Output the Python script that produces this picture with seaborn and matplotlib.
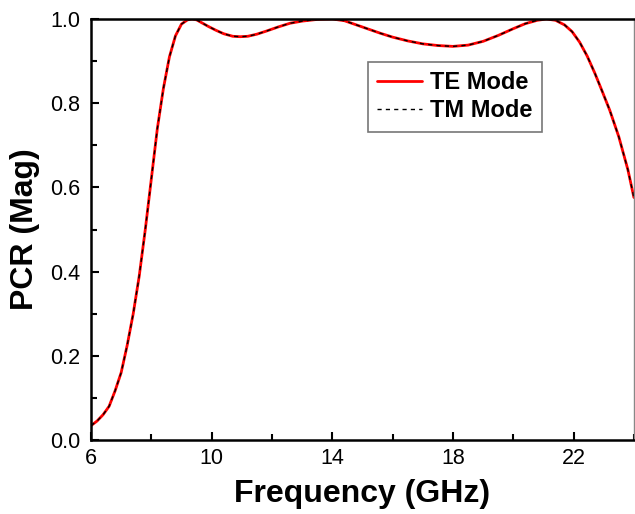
import matplotlib
matplotlib.use("Agg")
import matplotlib.pyplot as plt
import seaborn as sns
import pandas as pd
from matplotlib.ticker import MultipleLocator

freq = [6.0, 6.2, 6.4, 6.6, 6.8, 7.0, 7.2, 7.4, 7.6, 7.8, 8.0, 8.2, 8.4, 8.6,
        8.8, 9.0, 9.2, 9.35, 9.5, 9.7, 9.9, 10.15, 10.4, 10.7, 10.95, 11.2,
        11.5, 11.8, 12.2, 12.6, 13.0, 13.5, 14.0, 14.4, 14.8, 15.2, 15.6, 16.0,
        16.5, 17.0, 17.5, 18.0, 18.5, 19.0, 19.5, 20.0, 20.4, 20.8, 21.1, 21.4,
        21.7, 21.95, 22.2, 22.45, 22.7, 22.95, 23.2, 23.5, 23.8, 24.0]
te_mode = [0.034, 0.045, 0.06, 0.08, 0.117, 0.16, 0.225, 0.30, 0.39, 0.50, 0.62,
           0.74, 0.835, 0.91, 0.96, 0.988, 0.998, 1.0, 0.998, 0.99, 0.982, 0.973,
           0.965, 0.959, 0.958, 0.959, 0.964, 0.971, 0.981, 0.990, 0.995, 0.999,
           1.0, 0.996, 0.986, 0.976, 0.966, 0.957, 0.948, 0.941, 0.937, 0.935,
           0.938, 0.947, 0.961, 0.977, 0.989, 0.997, 1.0, 0.997, 0.986, 0.970,
           0.945, 0.912, 0.872, 0.828, 0.783, 0.72, 0.642, 0.576]
tm_mode = list(te_mode)

x_ticks = [6, 10, 14, 18, 22]
y_ticks = [0.0, 0.2, 0.4, 0.6, 0.8, 1.0]

sns.set_theme(style="white")
plt.rcParams["font.family"] = ["Liberation Sans", "DejaVu Sans"]
plt.rcParams["text.color"] = "black"
plt.rcParams["axes.labelcolor"] = "black"
plt.rcParams["xtick.color"] = "black"
plt.rcParams["ytick.color"] = "black"

df_te = pd.DataFrame({"Frequency": freq, "PCR": te_mode})
df_tm = pd.DataFrame({"Frequency": freq, "PCR": tm_mode})

fig = plt.figure(figsize=(6.35, 5.14), dpi=100)
ax = fig.add_axes([0.1433, 0.144, 0.855, 0.819])

sns.lineplot(data=df_te, x="Frequency", y="PCR", ax=ax, color="red",
             linewidth=2.0, label="TE Mode")
sns.lineplot(data=df_tm, x="Frequency", y="PCR", ax=ax, color="black",
             linewidth=1.0, linestyle=(0, (3, 3)), label="TM Mode")

ax.set_xlim(6, 24)
ax.set_ylim(0, 1.0)
ax.set_xticks(x_ticks)
ax.set_yticks(y_ticks)
ax.set_xticklabels([str(t) for t in x_ticks])
ax.set_yticklabels([f"{t:.1f}" for t in y_ticks])
ax.xaxis.set_minor_locator(MultipleLocator(2))
ax.yaxis.set_minor_locator(MultipleLocator(0.1))

ax.tick_params(axis="both", which="major", direction="in", length=6, width=1.5,
               labelsize=15.5, colors="black", bottom=True, left=True,
               top=False, right=False)
ax.tick_params(axis="both", which="minor", direction="in", length=4, width=1.5,
               colors="black", bottom=True, left=True, top=False, right=False)
ax.tick_params(axis="x", which="major", pad=6)
ax.tick_params(axis="y", which="major", pad=8)

for side in ["left", "bottom", "top"]:
    ax.spines[side].set_color("black")
    ax.spines[side].set_linewidth(1.8)
ax.spines["right"].set_color("#888888")
ax.spines["right"].set_linewidth(1.0)

ax.set_xlabel("Frequency (GHz)", fontsize=23, fontweight="bold", labelpad=7,
              color="black")
ax.set_ylabel("PCR (Mag)", fontsize=23, fontweight="bold", labelpad=7,
              color="black")

leg = ax.legend(loc="upper left", bbox_to_anchor=(0.51, 0.898), borderaxespad=0,
                frameon=True, fancybox=False, edgecolor="#555555",
                prop={"size": 17, "weight": "bold"}, handlelength=1.9,
                handletextpad=0.35, borderpad=0.4, labelspacing=0.2)
leg.get_frame().set_linewidth(1.2)
for t in leg.get_texts():
    t.set_color("black")

fig.savefig("out.png", dpi=100)
